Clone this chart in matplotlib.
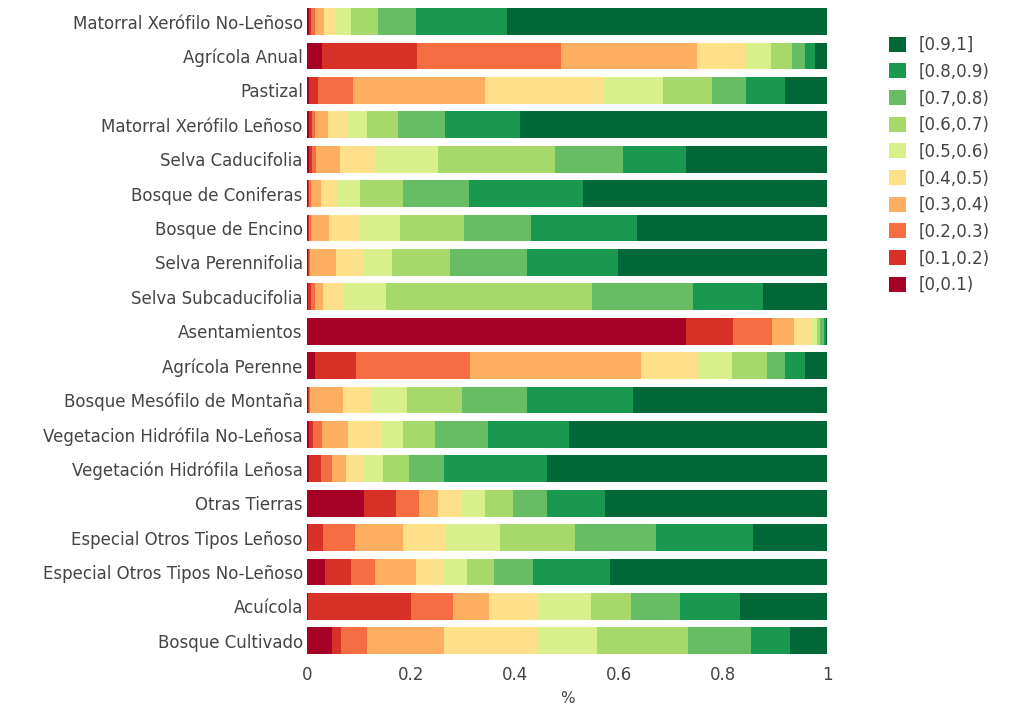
import matplotlib
matplotlib.use("Agg")
import matplotlib.pyplot as plt
from matplotlib.patches import Patch

categories = [
    "Matorral Xerófilo No-Leñoso", "Agrícola Anual", "Pastizal",
    "Matorral Xerófilo Leñoso", "Selva Caducifolia", "Bosque de Coniferas",
    "Bosque de Encino", "Selva Perennifolia", "Selva Subcaducifolia",
    "Asentamientos", "Agrícola Perenne", "Bosque Mesófilo de Montaña",
    "Vegetacion Hidrófila No-Leñosa", "Vegetación Hidrófila Leñosa",
    "Otras Tierras", "Especial Otros Tipos Leñoso",
    "Especial Otros Tipos No-Leñoso", "Acuícola", "Bosque Cultivado",
]

bin_labels = ["[0,0.1)", "[0.1,0.2)", "[0.2,0.3)", "[0.3,0.4)", "[0.4,0.5)",
              "[0.5,0.6)", "[0.6,0.7)", "[0.7,0.8)", "[0.8,0.9)", "[0.9,1]"]

# fraction of each class per bin (one list per bin, same order as categories)
b00_01 = [0.003, 0.028, 0.003, 0.004, 0.004, 0.001, 0.001, 0.001, 0.002, 0.729,
          0.015, 0.001, 0.003, 0.004, 0.110, 0.002, 0.035, 0.002, 0.048]
b01_02 = [0.005, 0.183, 0.019, 0.006, 0.006, 0.002, 0.002, 0.002, 0.006, 0.091,
          0.080, 0.002, 0.009, 0.022, 0.061, 0.029, 0.049, 0.198, 0.017]
b02_03 = [0.008, 0.277, 0.067, 0.006, 0.007, 0.004, 0.005, 0.003, 0.007, 0.074,
          0.218, 0.003, 0.016, 0.023, 0.045, 0.061, 0.047, 0.080, 0.051]
b03_04 = [0.016, 0.262, 0.253, 0.024, 0.046, 0.019, 0.034, 0.050, 0.016, 0.042,
          0.329, 0.063, 0.051, 0.026, 0.036, 0.092, 0.079, 0.070, 0.148]
b04_05 = [0.021, 0.092, 0.228, 0.037, 0.070, 0.031, 0.059, 0.054, 0.039, 0.035,
          0.108, 0.055, 0.065, 0.033, 0.046, 0.083, 0.053, 0.095, 0.179]
b05_06 = [0.032, 0.050, 0.115, 0.039, 0.119, 0.044, 0.078, 0.053, 0.082, 0.010,
          0.068, 0.069, 0.040, 0.039, 0.045, 0.104, 0.045, 0.101, 0.114]
b06_07 = [0.051, 0.041, 0.093, 0.059, 0.225, 0.083, 0.122, 0.112, 0.397, 0.005,
          0.067, 0.106, 0.062, 0.050, 0.054, 0.144, 0.051, 0.078, 0.176]
b07_08 = [0.074, 0.025, 0.066, 0.091, 0.131, 0.128, 0.130, 0.149, 0.194, 0.008,
          0.035, 0.125, 0.103, 0.067, 0.064, 0.156, 0.075, 0.093, 0.121]
b08_09 = [0.175, 0.019, 0.075, 0.143, 0.121, 0.218, 0.203, 0.175, 0.134, 0.004,
          0.037, 0.202, 0.155, 0.198, 0.112, 0.187, 0.149, 0.116, 0.075]
b09_10 = [0.615, 0.023, 0.081, 0.591, 0.271, 0.470, 0.366, 0.401, 0.123, 0.002,
          0.043, 0.374, 0.496, 0.538, 0.427, 0.142, 0.417, 0.167, 0.071]

series = [b00_01, b01_02, b02_03, b03_04, b04_05, b05_06, b06_07, b07_08, b08_09, b09_10]
colors = ["#a50026", "#d73027", "#f46d43", "#fdae61", "#fee08b",
          "#d9ef8b", "#a6d96a", "#66bd63", "#1a9850", "#006837"]

txt = "#444444"
plt.rcParams["font.family"] = ["DejaVu Sans"]

fig = plt.figure(figsize=(10.35, 7.06), dpi=100)
ax = fig.add_axes([307/1035, 1-658/706, 520/1035, 653.6/706])

y = list(range(len(categories)))
left = [0.0] * len(categories)
for vals, col, lab in zip(series, colors, bin_labels):
    ax.barh(y, vals, left=left, height=0.78, color=col, label=lab, linewidth=0)
    left = [a + b for a, b in zip(left, vals)]

ax.set_xlim(0, 1)
ax.set_ylim(len(categories) - 0.5, -0.5)
ax.set_yticks(y)
ax.set_yticklabels(categories)
ax.set_xticks([0, 0.2, 0.4, 0.6, 0.8, 1])
ax.set_xticklabels(["0", "0.2", "0.4", "0.6", "0.8", "1"])
ax.tick_params(length=0, labelsize=12, colors=txt)
ax.tick_params(axis="y", pad=3)
ax.tick_params(axis="x", pad=6)
for s in ax.spines.values():
    s.set_visible(False)
ax.set_xlabel("%", fontsize=11, color=txt, labelpad=5)

handles = [Patch(facecolor=c, edgecolor="none") for c in colors][::-1]
fig.legend(handles, bin_labels[::-1], loc="upper left",
           bbox_to_anchor=(889/1035, 1-36/706), frameon=False,
           fontsize=12, labelcolor=txt, handlelength=1.0, handleheight=1.0,
           handletextpad=0.8, labelspacing=0.52, borderpad=0, borderaxespad=0)

fig.savefig("out.png", dpi=100)
